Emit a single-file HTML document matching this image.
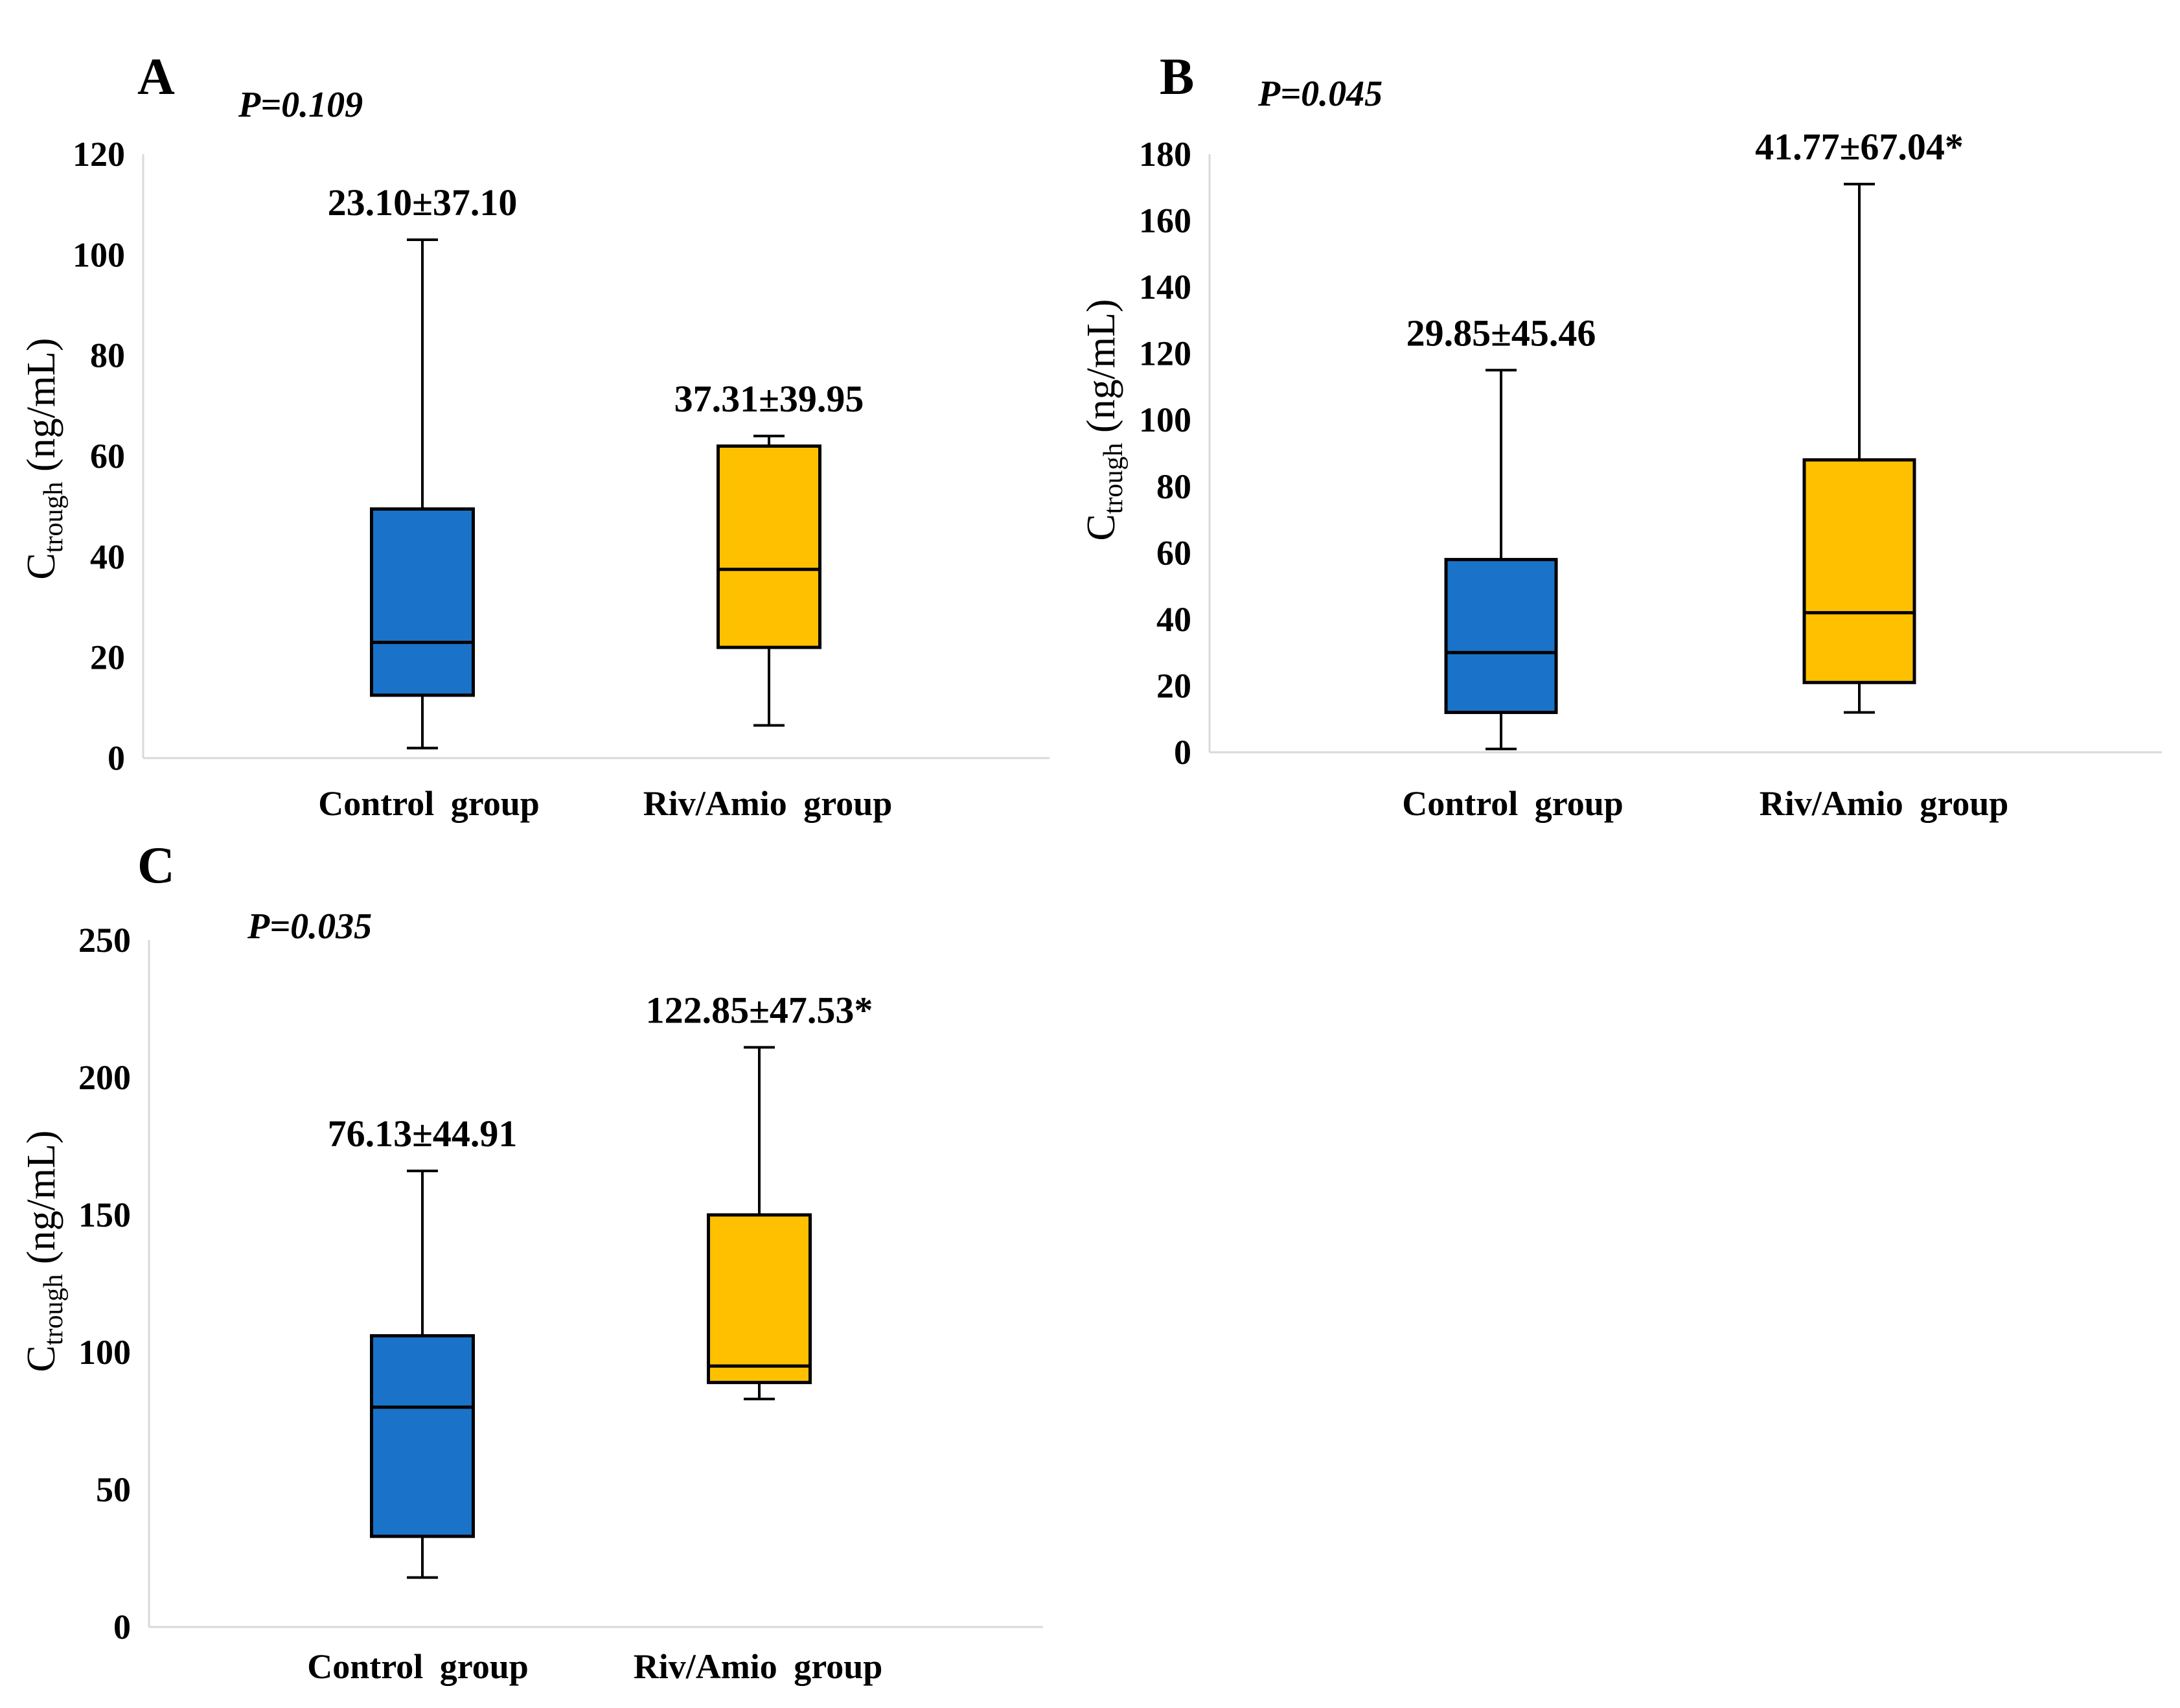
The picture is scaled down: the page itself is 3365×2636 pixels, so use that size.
<!DOCTYPE html>
<html><head><meta charset="utf-8"><style>
html,body{margin:0;padding:0;background:#fff}
svg{display:block}
text{font-family:"Liberation Serif",serif}
</style></head><body>
<svg id="fig" width="3365" height="2636" viewBox="0 0 3365 2636" xmlns="http://www.w3.org/2000/svg"></svg>
<script>
// Panel data
const categories = ["Control group", "Riv/Amio group"];
const panelLetters = ["A", "B", "C"];
const pValues = ["P=0.109", "P=0.045", "P=0.035"];
const yMaxes = [120, 180, 250];
const yStepsA = [0, 20, 40, 60, 80, 100, 120];
const yStepsB = [0, 20, 40, 60, 80, 100, 120, 140, 160, 180];
const yStepsC = [0, 50, 100, 150, 200, 250];
// [whiskerLow, q1, median, q3, whiskerHigh]
const boxesA = [[2, 12.5, 23, 49.5, 103], [6.5, 22, 37.5, 62, 64]];
const boxesB = [[1, 12, 30, 58, 115], [12, 21, 42, 88, 171]];
const boxesC = [[18, 33, 80, 106, 166], [83, 89, 95, 150, 211]];
const annotsA = ["23.10±37.10", "37.31±39.95"];
const annotsB = ["29.85±45.46", "41.77±67.04*"];
const annotsC = ["76.13±44.91", "122.85±47.53*"];

const layouts = [
  {x0:221,x1:1620,y0:1170,yT:238,cx:[652,1187],bw:157,letter:[212,145],p:[368,180],yl:[64,708],cat:1258,catx:[662,1185]},
  {x0:1867,x1:3337,y0:1161,yT:238,cx:[2317,2870],bw:170,letter:[1790,145],p:[1942,163],yl:[1700,648],cat:1258,catx:[2335,2908]},
  {x0:230,x1:1610,y0:2511,yT:1451,cx:[652,1172],bw:157,letter:[212,1362],p:[382,1448],yl:[64,1931],cat:2590,catx:[645,1170]}
];
const allBoxes=[boxesA,boxesB,boxesC], allTicks=[yStepsA,yStepsB,yStepsC], allAnn=[annotsA,annotsB,annotsC];
const colors=["#1a73c8","#ffc000"];
const svg=document.getElementById('fig');
const NS="http://www.w3.org/2000/svg";
function mk(tag,attrs,parent){const e=document.createElementNS(NS,tag);for(const k in attrs)e.setAttribute(k,attrs[k]);(parent||svg).appendChild(e);return e;}

for(let p=0;p<3;p++){
  const L=layouts[p], max=yMaxes[p];
  const y=v=>L.y0-(v/max)*(L.y0-L.yT);
  const g=mk('g',{});
  
  
  const lt=mk('text',{x:L.letter[0],y:L.letter[1],'font-size':80,'font-weight':'bold'},g);lt.textContent=panelLetters[p];
  
  
  const pt=mk('text',{x:L.p[0],y:L.p[1],'font-size':56,'font-weight':'bold','font-style':'italic'},g);pt.textContent=pValues[p];
  
  
  const ya=mk('line',{x1:L.x0,y1:L.yT,x2:L.x0,y2:L.y0,stroke:'#d9d9d9','stroke-width':3},g);
  
  
  const xa=mk('line',{x1:L.x0,y1:L.y0,x2:L.x1,y2:L.y0,stroke:'#d9d9d9','stroke-width':3},g);
  
  
  for(const t of allTicks[p]){
    const tt=mk('text',{x:L.x0-28,y:y(t)+18,'font-size':54,'font-weight':'bold','text-anchor':'end'},g);tt.textContent=t;
    
    
  }
  const yt=mk('text',{transform:`translate(${L.yl[0]+20},${L.yl[1]}) rotate(-90)`,'font-size':62,'text-anchor':'middle'},g);
  
  
  const t1=mk('tspan',{},yt);t1.textContent='C';
  const t2=mk('tspan',{'font-size':42,dy:12},yt);t2.textContent='trough';
  const t3=mk('tspan',{dy:-12},yt);t3.textContent=' (ng/mL)';
  for(let i=0;i<2;i++){
    const b=allBoxes[p][i], cx=L.cx[i], hw=L.bw/2;
    const bg=mk('g',{},g);
    
    
    mk('line',{x1:cx,y1:y(b[0]),x2:cx,y2:y(b[4]),stroke:'#000','stroke-width':4},bg);
    mk('line',{x1:cx-24,y1:y(b[0]),x2:cx+24,y2:y(b[0]),stroke:'#000','stroke-width':4},bg);
    mk('line',{x1:cx-24,y1:y(b[4]),x2:cx+24,y2:y(b[4]),stroke:'#000','stroke-width':4},bg);
    mk('rect',{x:cx-hw,y:y(b[3]),width:L.bw,height:y(b[1])-y(b[3]),fill:colors[i],stroke:'#000','stroke-width':5},bg);
    mk('line',{x1:cx-hw,y1:y(b[2]),x2:cx+hw,y2:y(b[2]),stroke:'#000','stroke-width':5},bg);
    const at=mk('text',{x:cx,y:y(b[4])-38,'font-size':58,'font-weight':'bold','text-anchor':'middle'},g);at.textContent=allAnn[p][i];
    
    
    const ct=mk('text',{x:L.catx[i],y:L.cat,'font-size':54,'font-weight':'bold','text-anchor':'middle','word-spacing':12},g);ct.textContent=categories[i];
    
    
  }
}
</script>
</body></html>
